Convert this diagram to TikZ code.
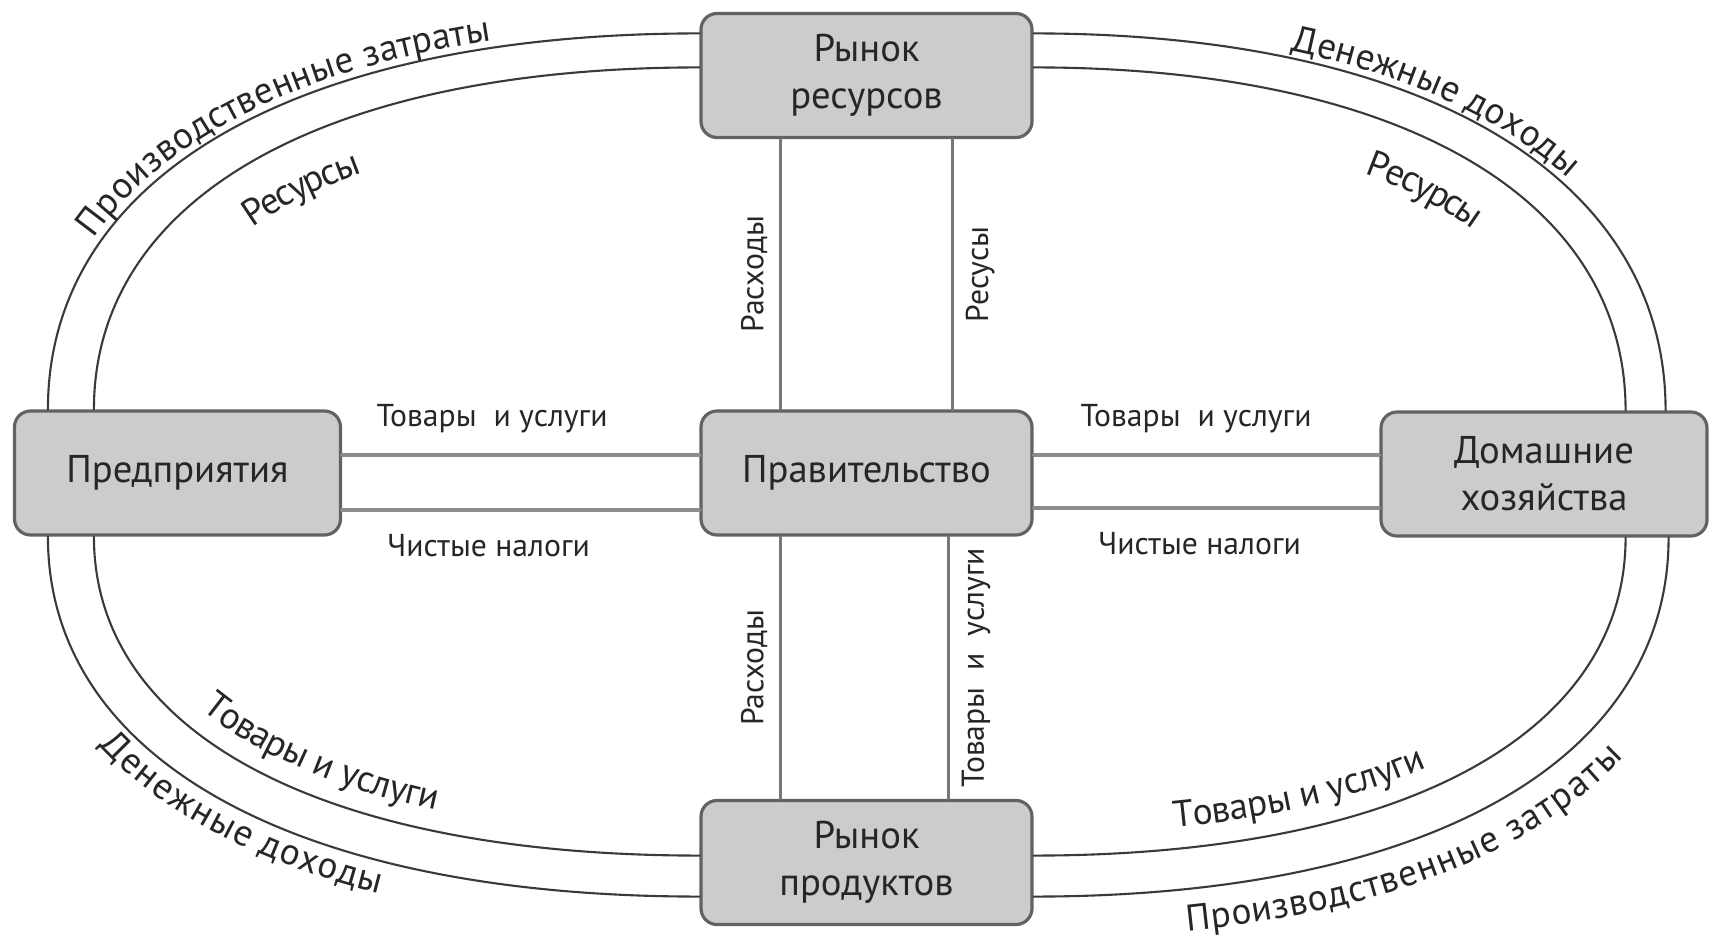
\documentclass[tikz,border=0pt]{standalone}
\usepackage{fontspec}
\setmainfont{PT Sans}
\usetikzlibrary{decorations.text}
\definecolor{boxfill}{HTML}{CCCCCC}
\definecolor{boxline}{HTML}{626262}
\definecolor{flow}{HTML}{8C8C8C}
\definecolor{loop}{HTML}{3A3A3A}
\newcommand\loopfont{\fontsize{10.6}{13}\selectfont}
\begin{document}
\begin{tikzpicture}[line join=round,line cap=round,
	sector/.style={draw=boxline,line width=0.9pt,fill=boxfill,rounded corners=0.16cm,
		minimum width=3.31cm,minimum height=1.24cm,align=center,text=black!85,
		font=\fontsize{11}{13.3}\selectfont},
	flowline/.style={draw=flow,line width=1.1pt},
	vflow/.style={draw=flow!85!black,line width=0.8pt},
	small/.style={font=\fontsize{9}{11}\selectfont,text=black!85},
	loopline/.style={draw=loop,line width=0.6pt},
	along/.style n args={4}{postaction={decorate,decoration={text along path,
		text align={center,left indent=#3,right indent=#4},text color=black!85,raise=#2,text={|\loopfont|#1}}}}]
	\useasboundingbox (0,0) rectangle (17.09,9.41);
	% sectors
	\node[sector] (resmarket) at (8.665,8.655) {Рынок\\ресурсов};
	\node[sector] (gov) at (8.665,4.68) {Правительство};
	\node[sector] (prodmarket) at (8.665,0.785) {Рынок\\продуктов};
	\node[sector,minimum width=3.26cm] (firms) at (1.775,4.68) {Предприятия};
	\node[sector,minimum width=3.26cm] (homes) at (15.44,4.67) {Домашние\\хозяйства};
	% government links
	\draw[vflow] ([xshift=-0.86cm]gov.north) -- node[small,sloped,above] {Расходы} ([xshift=-0.86cm]resmarket.south);
	\draw[vflow] ([xshift=0.86cm]gov.north) -- node[small,sloped,below] {Ресусы} ([xshift=0.86cm]resmarket.south);
	\draw[vflow] ([xshift=-0.86cm]prodmarket.north) -- node[small,sloped,above] {Расходы} ([xshift=-0.86cm]gov.south);
	\draw[vflow] ([xshift=0.82cm]prodmarket.north) -- node[small,sloped,below] {Товары\ \ и\ \ услуги} ([xshift=0.82cm]gov.south);
	\draw[flowline] ([yshift=0.18cm]firms.east) -- node[small,above=2.5pt,pos=0.42] {Товары\ \ и услуги} ([yshift=0.18cm]gov.west);
	\draw[flowline] ([yshift=-0.37cm]firms.east) -- node[small,below=3pt,pos=0.41] {Чистые налоги} ([yshift=-0.37cm]gov.west);
	\draw[flowline] ([yshift=0.18cm]gov.east) -- node[small,above=2.5pt,pos=0.47] {Товары\ \ и услуги} ([yshift=0.19cm]homes.west);
	\draw[flowline] ([yshift=-0.35cm]gov.east) -- node[small,below=3pt,pos=0.48] {Чистые налоги} ([yshift=-0.34cm]homes.west);
	% circular flows
	\draw[loopline,along={Производственные затраты}{2pt}{0cm}{0.3cm}] ([xshift=0.35cm]firms.north west) .. controls +(0,2.33) and +(-4.03,0) .. ([yshift=-0.215cm]resmarket.north west);
	\draw[loopline,along={Ресурсы}{-16pt}{0cm}{0.9cm}] ([xshift=0.81cm]firms.north west) .. controls +(0,2.12) and +(-3.74,0) .. ([yshift=-0.555cm]resmarket.north west);
	\draw[loopline,along={Денежные доходы}{2pt}{0cm}{0cm}] ([yshift=-0.215cm]resmarket.north east) .. controls +(3.92,0) and +(0,2.33) .. ([xshift=-0.43cm]homes.north east);
	\draw[loopline,along={Ресурсы}{-16pt}{0.9cm}{0cm}] ([yshift=-0.555cm]resmarket.north east) .. controls +(3.68,0) and +(0,2.12) .. ([xshift=-0.83cm]homes.north east);
	\draw[loopline,along={Денежные доходы}{-9pt}{0cm}{1.1cm}] ([xshift=0.35cm]firms.south west) .. controls +(0,-2.23) and +(-4.04,0) .. ([yshift=0.295cm]prodmarket.south west);
	\draw[loopline,along={Товары и услуги}{6pt}{0cm}{0.5cm}] ([xshift=0.81cm]firms.south west) .. controls +(0,-1.98) and +(-3.75,0) .. ([yshift=0.705cm]prodmarket.south west);
	\draw[loopline,along={Товары и услуги}{6pt}{0cm}{1.9cm}] ([yshift=0.705cm]prodmarket.south east) .. controls +(3.68,0) and +(0,-1.97) .. ([xshift=-0.83cm]homes.south east);
	\draw[loopline,along={Производственные затраты}{-12pt}{0cm}{0.6cm}] ([yshift=0.295cm]prodmarket.south east) .. controls +(3.94,0) and +(0,-2.23) .. ([xshift=-0.40cm]homes.south east);
\end{tikzpicture}
\end{document}
